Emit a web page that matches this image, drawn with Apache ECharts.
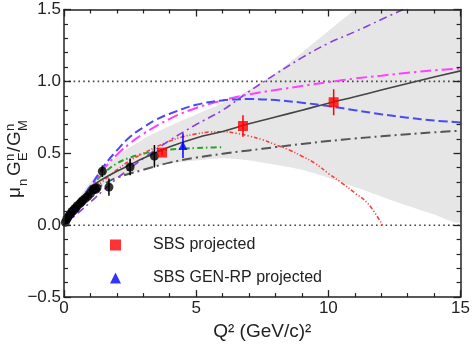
<!DOCTYPE html>
<html><head><meta charset="utf-8">
<script src="https://cdn.jsdelivr.net/npm/echarts@6/dist/echarts.min.js"></script>
<style>html,body{margin:0;padding:0;background:#fff}#c{width:473px;height:346px}</style>
</head><body><div id="c"></div>
<script>
// ---- tick labels ----
const xTickValues = [0, 5, 10, 15];
const xTickLabels = ['0', '5', '10', '15'];
const yTickValues = [-0.5, 0, 0.5, 1, 1.5];
const yTickLabels = ['\u22120.5', '0.0', '0.5', '1.0', '1.5'];
const refLevels = [0, 1];

// ---- uncertainty band ----
const bandX    = [0, 0.5, 1, 1.5, 2, 3, 4, 5, 6, 7, 8, 9, 10, 11, 12, 13, 14, 15];
const bandLow  = [0, 0.14, 0.22, 0.285, 0.33, 0.39, 0.43, 0.45, 0.465, 0.45, 0.42, 0.385, 0.33, 0.265, 0.20, 0.135, 0.075, 0.03];
const bandHigh = [0, 0.17, 0.30, 0.40, 0.48, 0.60, 0.69, 0.77, 0.85, 0.94, 1.06, 1.20, 1.35, 1.50, 1.66, 1.82, 1.98, 2.14];

// ---- model curves [Q2, value] ----
const fitCurve = [[0,0],[0.25,0.09],[0.5,0.15],[1,0.26],[1.5,0.325],[2,0.375],[2.5,0.42],[3,0.465],[4,0.545],[5,0.607],[6,0.652],[7,0.705],[8,0.752],[9,0.80],[10,0.848],[11,0.893],[12,0.94],[13,0.985],[14,1.03],[15,1.073]];
const blueCurve = [[0,0],[0.5,0.15],[1,0.27],[1.5,0.41],[2,0.52],[2.5,0.615],[3,0.68],[3.5,0.735],[4,0.775],[5,0.837],[6,0.868],[7,0.877],[8,0.87],[9,0.852],[10,0.828],[11,0.80],[12,0.772],[13,0.748],[14,0.728],[15,0.715]];
const magentaCurve = [[0,0],[0.5,0.13],[1,0.25],[1.5,0.39],[2,0.49],[2.5,0.57],[3,0.635],[4,0.74],[5,0.815],[6,0.868],[7,0.91],[8,0.94],[9,0.968],[10,0.995],[11,1.02],[12,1.04],[13,1.06],[14,1.077],[15,1.09]];
const purpleCurve = [[0,0],[0.5,0.08],[1,0.16],[1.5,0.245],[2,0.325],[2.5,0.395],[3,0.465],[4,0.59],[5,0.70],[6,0.80],[7,0.93],[8,1.05],[9,1.165],[10,1.265],[11,1.345],[12,1.43],[13,1.515]];
const redCurve = [[0,0],[0.5,0.13],[1,0.23],[1.5,0.31],[2,0.385],[2.5,0.45],[3,0.50],[3.5,0.545],[4,0.585],[4.5,0.615],[5,0.635],[5.5,0.648],[6,0.65],[6.5,0.64],[7,0.62],[7.5,0.595],[8,0.56],[8.5,0.525],[9,0.48],[9.5,0.43],[10,0.36],[10.5,0.295],[11,0.225],[11.5,0.15],[12.05,0]];
const greenCurve = [[0.9,0.25],[1.5,0.36],[2,0.43],[2.5,0.47],[3,0.497],[3.5,0.515],[4,0.526],[4.5,0.532],[5,0.537],[5.5,0.54],[6,0.543]];
const grayCurve = [[0,0],[0.5,0.13],[1,0.22],[1.5,0.285],[2,0.33],[3,0.385],[4,0.435],[5,0.47],[6,0.497],[7,0.52],[8,0.543],[9,0.565],[10,0.585],[11,0.603],[12,0.618],[13,0.633],[14,0.646],[15,0.657]];

// ---- data points [Q2, value, error] ----
const existingData = [[0.05,0.02,0.01],[0.1,0.04,0.01],[0.15,0.055,0.01],[0.2,0.07,0.012],[0.25,0.08,0.012],[0.3,0.095,0.012],[0.35,0.10,0.015],[0.4,0.115,0.015],[0.45,0.12,0.015],[0.5,0.135,0.015],[0.6,0.15,0.02],[0.65,0.16,0.02],[0.7,0.17,0.02],[0.8,0.185,0.02],[0.9,0.20,0.02],[1.0,0.22,0.02],[1.1,0.245,0.025],[1.15,0.255,0.025],[1.2,0.25,0.025],[1.25,0.26,0.025],[1.45,0.375,0.04],[1.7,0.265,0.06],[2.5,0.405,0.058],[3.42,0.48,0.078]];
const sbsProjected = [[3.71,0.505,0.02],[6.77,0.69,0.075],[10.2,0.855,0.09]];
const genRpProjected = [[4.5,0.554,0.086]];

const labelFont = '"Liberation Sans", Arial, Helvetica, sans-serif';
const ink = '#222';

function curve(name, data, color, width, dash, z) {
  return { name, type: 'line', data, smooth: 0.4, symbol: 'none', silent: true, z: z || 3,
    lineStyle: { color, width, type: dash } };
}
function errBars(data, color) {
  return { type: 'custom', data, silent: true, z: 5, clip: true,
    renderItem(params, api) {
      const x = api.value(0), y = api.value(1), e = api.value(2);
      const p1 = api.coord([x, y + e]), p2 = api.coord([x, y - e]);
      return { type: 'line', shape: { x1: p1[0], y1: p1[1], x2: p2[0], y2: p2[1] },
        style: { stroke: color, lineWidth: 1.5 } };
    } };
}
function fmt(values, labels) {
  return v => { const i = values.findIndex(t => Math.abs(t - v) < 1e-9); return i >= 0 ? labels[i] : ''; };
}

const axisCommon = {
  type: 'value', z: 10,
  axisLine: { show: true, onZero: false, lineStyle: { color: ink, width: 1.5 } },
  axisTick: { show: true, inside: true, length: 7, lineStyle: { color: ink, width: 1.3 } },
  minorTick: { show: true, splitNumber: 5, length: 4, lineStyle: { color: ink, width: 1.2 } },
  splitLine: { show: false },
  minorSplitLine: { show: false }
};

const chart = echarts.init(document.getElementById('c'), null, { renderer: 'canvas' });
chart.setOption({
  animation: false,
  backgroundColor: '#fff',
  grid: { left: 64, right: 10, top: 9.5, bottom: 48, containLabel: false },
  xAxis: [
    Object.assign({}, axisCommon, { position: 'bottom', min: 0, max: 15, interval: 5,
      axisLabel: { show: true, margin: 3, fontSize: 17, color: ink, fontFamily: labelFont, formatter: fmt(xTickValues, xTickLabels) },
      name: 'Q\u00b2 (GeV/c)\u00b2', nameLocation: 'middle', nameGap: 20,
      nameTextStyle: { fontSize: 19, color: ink, fontFamily: labelFont, verticalAlign: 'top' } }),
    Object.assign({}, axisCommon, { position: 'top', min: 0, max: 15, interval: 5, axisLabel: { show: false } })
  ],
  yAxis: [
    Object.assign({}, axisCommon, { position: 'left', min: -0.5, max: 1.5, interval: 0.5,
      axisLabel: { show: true, margin: 3, fontSize: 17, color: ink, fontFamily: labelFont, formatter: fmt(yTickValues, yTickLabels) } }),
    Object.assign({}, axisCommon, { position: 'right', min: -0.5, max: 1.5, interval: 0.5, axisLabel: { show: false } })
  ],
  legend: {
    orient: 'vertical', left: 105, top: 232, itemWidth: 11, itemHeight: 11, itemGap: 17,
    selectedMode: false,
    data: ['SBS projected', 'SBS GEN-RP projected'],
    textStyle: { fontSize: 16, color: ink, fontFamily: labelFont, padding: [0, 0, 0, 27] }
  },
  graphic: [{
    type: 'group', x: 15, y: 198, rotation: Math.PI / 2, silent: true,
    children: [
      { type: 'text', x: 0, y: 0, style: { text: '\u03bc', font: '19px ' + labelFont, fill: ink, verticalAlign: 'middle' } },
      { type: 'text', x: 12, y: 8, style: { text: 'n', font: '13px ' + labelFont, fill: ink, verticalAlign: 'middle' } },
      { type: 'text', x: 22, y: 0, style: { text: 'G', font: '19px ' + labelFont, fill: ink, verticalAlign: 'middle' } },
      { type: 'text', x: 37, y: -5, style: { text: 'n', font: '13px ' + labelFont, fill: ink, verticalAlign: 'middle' } },
      { type: 'text', x: 37, y: 8, style: { text: 'E', font: '13px ' + labelFont, fill: ink, verticalAlign: 'middle' } },
      { type: 'text', x: 46, y: 0, style: { text: '/', font: '19px ' + labelFont, fill: ink, verticalAlign: 'middle' } },
      { type: 'text', x: 52, y: 0, style: { text: 'G', font: '19px ' + labelFont, fill: ink, verticalAlign: 'middle' } },
      { type: 'text', x: 67, y: -5, style: { text: 'n', font: '13px ' + labelFont, fill: ink, verticalAlign: 'middle' } },
      { type: 'text', x: 67, y: 8, style: { text: 'M', font: '13px ' + labelFont, fill: ink, verticalAlign: 'middle' } }
    ]
  }],
  series: [
    { name: 'band', type: 'custom', silent: true, z: 1, clip: true,
      data: [[bandX[0], bandLow[0]]],
      renderItem(params, api) {
        const upper = bandX.map((x, i) => api.coord([x, bandHigh[i]]));
        const lower = bandX.map((x, i) => api.coord([x, bandLow[i]])).reverse();
        return { type: 'polygon', shape: { points: upper.concat(lower), smooth: 0.25 },
          style: { fill: '#e6e6e6', stroke: null } };
      } },
    ...refLevels.map(v => ({ type: 'line', data: [[0, v], [15, v]], symbol: 'none', silent: true, z: 2,
      lineStyle: { color: '#444', width: 1.6, type: [1.6, 3.2] } })),
    curve('gray', grayCurve, '#555555', 2, [10, 4, 2, 4]),
    curve('green', greenCurve, '#2ca02c', 2, [6, 3, 1.5, 3]),
    curve('red', redCurve, '#ff3b3b', 1.6, [4, 2, 1.2, 2, 1.2, 2]),
    curve('purple', purpleCurve, '#8c3fe0', 1.6, [8, 4, 2, 4]),
    curve('magenta', magentaCurve, '#ff40ff', 2, [11, 4, 2.5, 4]),
    curve('blue', blueCurve, '#4a4af5', 2, [9, 4]),
    curve('fit', fitCurve, '#444444', 1.6, 'solid'),
    errBars(existingData, '#000'),
    errBars(sbsProjected, '#ff0000'),
    errBars(genRpProjected, '#0000ff'),
    { name: 'existing', type: 'scatter', data: existingData.map(d => [d[0], d[1]]), symbol: 'circle', symbolSize: 9,
      itemStyle: { color: '#000' }, silent: true, z: 6 },
    { name: 'SBS projected', type: 'scatter', data: sbsProjected.map(d => [d[0], d[1]]), symbol: 'rect', symbolSize: 10,
      itemStyle: { color: '#ff0000' }, silent: true, z: 6 },
    { name: 'SBS GEN-RP projected', type: 'scatter', data: genRpProjected.map(d => [d[0], d[1]]), symbol: 'triangle', symbolSize: 9,
      itemStyle: { color: '#0000ff' }, silent: true, z: 6 }
  ]
});
</script></body></html>
